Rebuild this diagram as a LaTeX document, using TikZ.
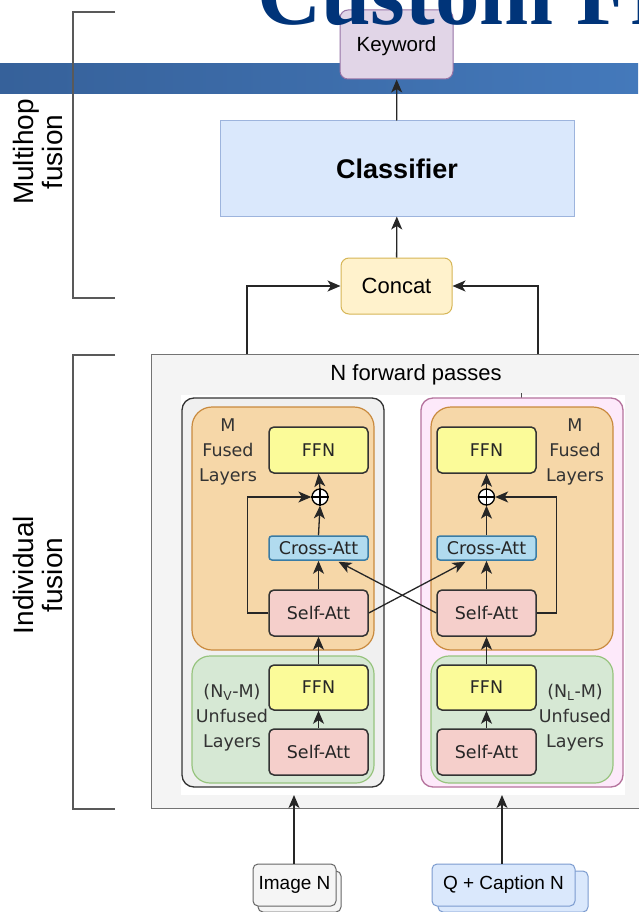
\documentclass[tikz,border=0pt]{standalone}
\usepackage{fontspec}
\setmainfont{Liberation Sans}
\newfontfamily\dv{DejaVu Sans}
\newfontfamily\titlefont{Liberation Serif}
\usetikzlibrary{arrows.meta,calc}
\definecolor{titleblue}{HTML}{003479}
\definecolor{barL}{HTML}{36619A}
\definecolor{barR}{HTML}{4479BB}
\definecolor{ffnfill}{HTML}{FBFB99}
\definecolor{safill}{HTML}{F5CFCB}
\definecolor{cafill}{HTML}{B1DBEF}
\definecolor{cadraw}{HTML}{3A7CA5}
\definecolor{orfill}{HTML}{F6D7A8}
\definecolor{ordraw}{HTML}{C98A3E}
\definecolor{grfill}{HTML}{D6E8D4}
\definecolor{grdraw}{HTML}{97C47E}
\definecolor{pkfill}{HTML}{FDE9FA}
\definecolor{pkdraw}{HTML}{B5739D}
\definecolor{kwfill}{HTML}{E1D5E7}
\definecolor{kwdraw}{HTML}{9673A6}
\definecolor{clfill}{HTML}{DAE8FC}
\definecolor{cldraw}{HTML}{9DB4DD}
\definecolor{ccfill}{HTML}{FFF2CC}
\definecolor{ccdraw}{HTML}{D6B656}
\definecolor{bigfill}{HTML}{F4F4F4}
\definecolor{grayfill}{HTML}{F0F0F0}
\definecolor{imgfill}{HTML}{F5F5F5}
\definecolor{capdraw}{HTML}{7B9BCF}
\tikzset{
  fs/.style={font=\fontsize{#1}{\dimexpr#1pt*6/5\relax}\selectfont},
  arr/.style={-{Stealth[length=13pt,width=11pt,inset=3.5pt]}, line width=1.3pt, draw=black!85},
  plain/.style={line width=1.2pt, draw=black!65},
  topbox/.style={draw, line width=1pt, inner sep=0pt, align=center},
  inbox/.style={draw=black!80, line width=1.5pt, rounded corners=5pt, inner sep=0pt,
     minimum width=99pt, font=\dv\fontsize{17.5}{21}\selectfont, text=black!85},
  ffnbox/.style={inbox, fill=ffnfill, minimum height=46pt},
  sabox/.style={inbox, fill=safill, minimum height=46pt},
  cabox/.style={inbox, fill=cafill, draw=cadraw, minimum height=24pt, rounded corners=3pt},
  lbl/.style={align=center, font=\dv\fontsize{17.5}{25}\selectfont, text=black!80},
  plus/.style={circle, draw=black, line width=1.3pt, fill=white, minimum size=16pt, inner sep=0pt},
}
\begin{document}
\begin{tikzpicture}[x=1pt,y=-1pt]
\useasboundingbox (0,0) rectangle (638,912);
\fill[white] (0,0) rectangle (638,912);
% slide bar
\shade[left color=barL, right color=barR] (0,64) rectangle (638,94);

% brackets
\draw[plain] (115,12) -- (73,12) -- (73,298) -- (115,298);
\draw[plain] (115,355) -- (73,355) -- (73,809) -- (115,809);
\node[rotate=90, align=center, fs=28] (mh) at (38,152) {Multihop\\[-5pt]fusion};
\node[rotate=90, align=center, fs=28] (ind) at (38,575) {Individual\\[-5pt]fusion};

% top nodes
\node[topbox, rounded corners=8pt, fill=kwfill, draw=kwdraw, minimum width=113pt, minimum height=69pt] (kw) at (396.5,44.5) {};
\node[fs=20.5, inner sep=0pt] (kwt) at (396.5,46) {Keyword};
\node[topbox, fill=clfill, draw=cldraw, minimum width=354pt, minimum height=95pt, font=\bfseries\fontsize{27}{32}\selectfont] (cls) at (397,168.5) {Classifier};
\node[topbox, rounded corners=8pt, fill=ccfill, draw=ccdraw, minimum width=111pt, minimum height=56pt, fs=22] (cc) at (396.5,286) {Concat};

% big box
\draw[line width=1pt, draw=black!55, fill=bigfill] (151,354) rectangle (645,808);
\node[fs=22] (nfp) at (416,375) {N forward passes};
\fill[white] (181,395) rectangle (625,795);
\draw[line width=0.8pt, black!70] (521,393) -- (521,398);

% columns
\draw[line width=1.3pt, draw=black!80, fill=grayfill, rounded corners=12pt] (182,398) rectangle (384,787);
\draw[line width=1.3pt, draw=pkdraw, fill=pkfill, rounded corners=12pt] (421,398) rectangle (623,787);
\draw[line width=1.2pt, draw=ordraw, fill=orfill, rounded corners=20pt] (192,407) rectangle (374,650);
\draw[line width=1.2pt, draw=ordraw, fill=orfill, rounded corners=20pt] (431,407) rectangle (613,650);
\draw[line width=1.2pt, draw=grdraw, fill=grfill, rounded corners=18pt] (192,656) rectangle (374,783);
\draw[line width=1.2pt, draw=grdraw, fill=grfill, rounded corners=18pt] (431,656) rectangle (613,783);

% left column nodes
\node[ffnbox] (lffn) at (318.5,450) {FFN};
\node[plus] (lplus) at (320,497) {};
\draw[line width=1.3pt] (lplus.north) -- (lplus.south) (lplus.west) -- (lplus.east);
\node[cabox] (lca) at (318.5,548) {Cross-Att};
\node[sabox] (lsa) at (318.5,613) {Self-Att};
\node[ffnbox, minimum height=45pt] (lffu) at (318.5,687.5) {FFN};
\node[sabox] (lsau) at (318.5,752) {Self-Att};
% right column nodes
\node[ffnbox] (rffn) at (486.5,450) {FFN};
\node[plus] (rplus) at (486.5,497) {};
\draw[line width=1.3pt] (rplus.north) -- (rplus.south) (rplus.west) -- (rplus.east);
\node[cabox] (rca) at (486.5,548) {Cross-Att};
\node[sabox] (rsa) at (486.5,613) {Self-Att};
\node[ffnbox, minimum height=45pt] (rffu) at (486.5,687.5) {FFN};
\node[sabox] (rsau) at (486.5,752) {Self-Att};

% labels
\node[lbl] (lm) at (228,452) {M\\Fused\\Layers};
\node[lbl] (rm) at (575,452) {M\\Fused\\Layers};
\node[lbl] (lu) at (232,718) {(N\textsubscript{V}-M)\\Unfused\\Layers};
\node[lbl] (ru) at (575,718) {(N\textsubscript{L}-M)\\Unfused\\Layers};

% inner arrows
\foreach \s in {l,r}{
  \draw[arr] (\s sau) -- (\s ffu);
  \draw[arr] (\s ffu) -- (\s sa);
  \draw[arr] (\s sa) -- (\s ca);
  \draw[arr] (\s ca.north) -- (\s plus.south);
  \draw[arr] (\s plus.north) -- (\s ffn.south);
}
\draw[arr] (lsa.west) -- ++(-21,0) |- (lplus.west);
\draw[arr] (rsa.east) -- ++(20,0) |- (rplus.east);
\draw[arr] (lsa.east) -- ($(rca.south)+(-21,1)$);
\draw[arr] (rsa.west) -- ($(lca.south)+(20,1)$);

% inputs
\node[draw=black!60, line width=1pt, rounded corners=5pt, fill=imgfill, minimum width=83pt, minimum height=41pt] (img2) at (299.5,891.5) {};
\node[draw=black!60, line width=1pt, rounded corners=5pt, fill=imgfill, minimum width=83pt, minimum height=42pt, inner sep=0pt, fs=19] (img) at (294.5,885) {Image N};
\node[draw=capdraw, line width=1pt, rounded corners=5pt, fill=clfill, minimum width=150pt, minimum height=41pt] (cap2) at (513,891.5) {};
\node[draw=capdraw, line width=1pt, rounded corners=5pt, fill=clfill, minimum width=143pt, minimum height=42pt, inner sep=0pt, fs=19] (cap) at (503.5,885) {Q + Caption N};
\coordinate (imgin) at (294,795);
\coordinate (capin) at (502,795);
\draw[arr] (img.north -| imgin) -- (imgin);
\draw[arr] (cap.north -| capin) -- (capin);

% top arrows
\coordinate (fl) at (247,354);
\coordinate (fr) at (538,354);
\draw[arr] (fl) |- (cc.west);
\draw[arr] (fr) |- (cc.east);
\draw[arr] (cc) -- (cls);
\draw[arr] (cls) -- (kw);

% slide title
\node[anchor=base west, inner sep=0pt, text=titleblue, font=\titlefont\bfseries\fontsize{89}{100}\selectfont] (title) at (257,25) {Custom Fr};
\end{tikzpicture}
\end{document}
